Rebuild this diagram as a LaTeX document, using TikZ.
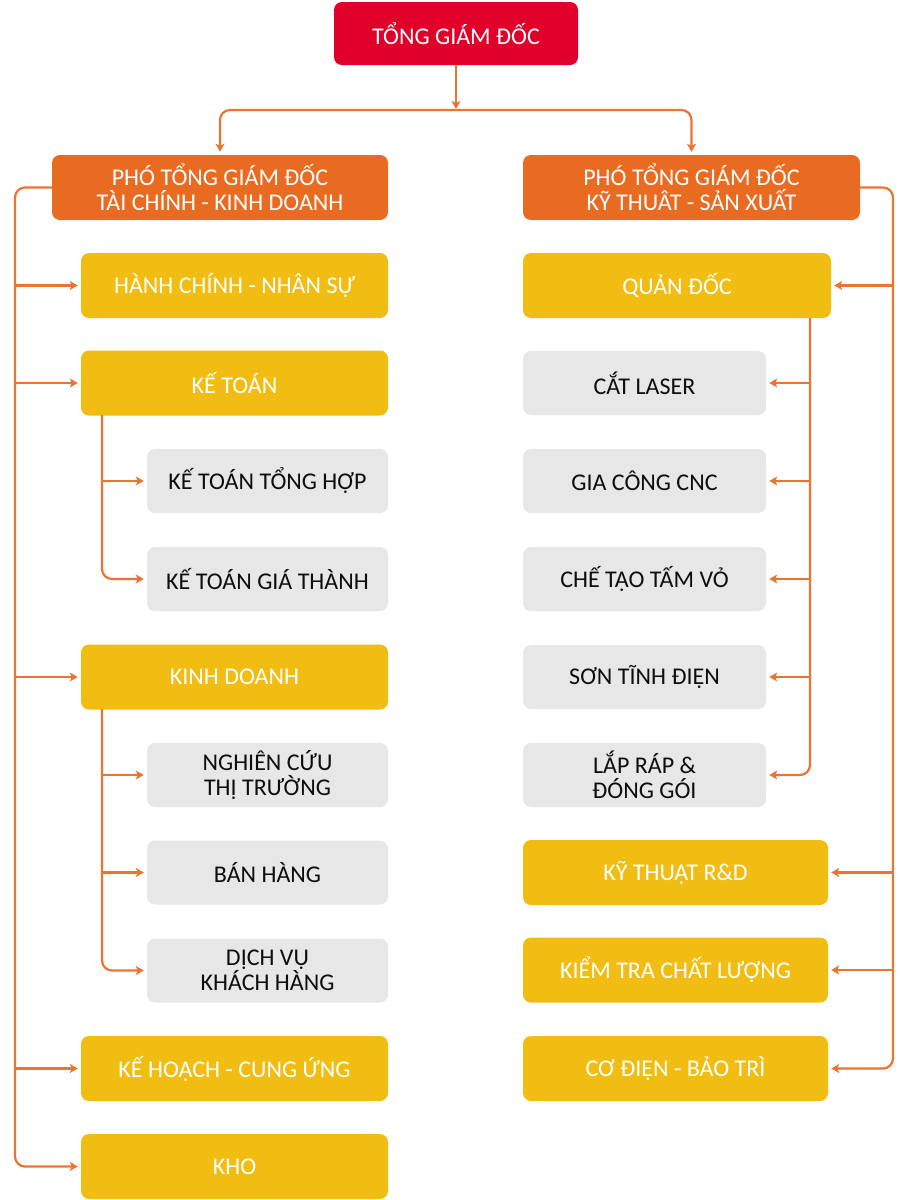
\documentclass[tikz,border=0pt]{standalone}
\usepackage{fontspec}
\setmainfont{Carlito}
\usetikzlibrary{arrows.meta}
\definecolor{ceored}{HTML}{E0002A}
\definecolor{vporange}{HTML}{E96B21}
\definecolor{unityellow}{HTML}{F2BD12}
\definecolor{subgray}{HTML}{E7E7E7}
\definecolor{linkorange}{HTML}{EC7433}
\tikzset{
  box/.style={rounded corners=8pt, align=center, inner sep=0pt,
    font=\fontsize{24}{25}\selectfont},
  ceobox/.style={box, fill=ceored, text=white, minimum width=244pt, minimum height=63pt},
  vpbox/.style={box, fill=vporange, text=white, minimum width=336pt, minimum height=65pt},
  unitbox/.style={box, fill=unityellow, text=white, minimum height=65pt},
  subbox/.style={box, fill=subgray, text=black!95, minimum height=64pt},
  link/.style={draw=linkorange, line width=2.2pt, rounded corners=10pt,
    -{Stealth[length=8pt,width=9pt,inset=2pt]}, shorten >=3pt}
}
\begin{document}
\begin{tikzpicture}[x=1pt, y=-1pt]
  \useasboundingbox (0,0) rectangle (912,1200);
  % Top
  \node[ceobox] (ceo) at (456,33.5) {TỔNG GIÁM ĐỐC};
  \node[vpbox] (vpl) at (220,187.5) {PHÓ TỔNG GIÁM ĐỐC\\TÀI CHÍNH - KINH DOANH};
  \node[vpbox, minimum width=337pt] (vpr) at (691.5,187.5) {PHÓ TỔNG GIÁM ĐỐC\\KỸ THUÂT - SẢN XUẤT};
  % Left column
  \node[unitbox, minimum width=307pt] (hcns) at (234.5,285.5) {HÀNH CHÍNH - NHÂN SỰ};
  \node[unitbox, minimum width=307pt] (kt) at (234.5,383) {KẾ TOÁN};
  \node[subbox, minimum width=241pt] (ktth) at (267.5,481) {KẾ TOÁN TỔNG HỢP};
  \node[subbox, minimum width=241pt] (ktgt) at (267.5,579) {KẾ TOÁN GIÁ THÀNH};
  \node[unitbox, minimum width=307pt] (kd) at (234.5,677) {KINH DOANH};
  \node[subbox, minimum width=241pt] (nctt) at (267.5,775) {NGHIÊN CỨU\\THỊ TRƯỜNG};
  \node[subbox, minimum width=241pt] (bh) at (267.5,872.5) {BÁN HÀNG};
  \node[subbox, minimum width=241pt] (dvkh) at (267.5,970.5) {DỊCH VỤ\\KHÁCH HÀNG};
  \node[unitbox, minimum width=307pt] (khcu) at (234.5,1068.5) {KẾ HOẠCH - CUNG ỨNG};
  \node[unitbox, minimum width=307pt] (kho) at (234.5,1166.5) {KHO};
  % Right column
  \node[unitbox, minimum width=308pt] (qd) at (677,285.5) {QUẢN ĐỐC};
  \node[subbox, minimum width=243pt] (cl) at (644.5,383) {CẮT LASER};
  \node[subbox, minimum width=243pt] (gc) at (644.5,481) {GIA CÔNG CNC};
  \node[subbox, minimum width=243pt] (ct) at (644.5,579) {CHẾ TẠO TẤM VỎ};
  \node[subbox, minimum width=243pt] (st) at (644.5,677) {SƠN TĨNH ĐIỆN};
  \node[subbox, minimum width=243pt] (lr) at (644.5,775) {LẮP RÁP \&\\ĐÓNG GÓI};
  \node[unitbox, minimum width=305pt] (rd) at (675.5,872.5) {KỸ THUẬT R\&D};
  \node[unitbox, minimum width=305pt] (kcl) at (675.5,970) {KIỂM TRA CHẤT LƯỢNG};
  \node[unitbox, minimum width=305pt] (cdbt) at (675.5,1068.5) {CƠ ĐIỆN - BẢO TRÌ};
  % Bus points
  \coordinate (split) at (456,110);
  \coordinate (lbus) at (15,1166.5);
  \coordinate (rbus) at (893,1068.5);
  \coordinate (ktbus) at (102,415);
  \coordinate (kdbus) at (102,709);
  \coordinate (qdbus) at (810,318);
  % Connectors
  \draw[link, shorten >=1pt] (ceo.south) -- (split);
  \draw[link] (split) -| (vpl.north);
  \draw[link] (split) -| (vpr.north);
  \draw[link] (vpl.west) -| (lbus) -- (kho.west);
  \foreach \n in {hcns,kt,kd,khcu}
    \draw[link] (lbus |- \n.west) -- (\n.west);
  \draw[link] (ktbus) |- (ktgt.west);
  \draw[link] (ktbus |- ktth.west) -- (ktth.west);
  \draw[link] (kdbus) |- (dvkh.west);
  \foreach \n in {nctt,bh}
    \draw[link] (kdbus |- \n.west) -- (\n.west);
  \draw[link] (vpr.east) -| (rbus) -- (cdbt.east);
  \foreach \n in {qd,rd,kcl}
    \draw[link] (rbus |- \n.east) -- (\n.east);
  \draw[link] (qdbus) |- (lr.east);
  \foreach \n in {cl,gc,ct,st}
    \draw[link] (qdbus |- \n.east) -- (\n.east);
\end{tikzpicture}
\end{document}
